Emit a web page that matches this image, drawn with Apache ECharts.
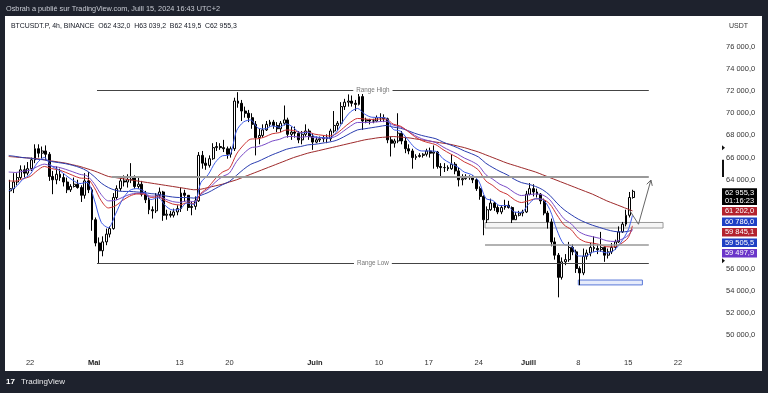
<!DOCTYPE html>
<html><head><meta charset="utf-8">
<script src="https://cdn.jsdelivr.net/npm/echarts@6/dist/echarts.min.js"></script>
<style>html,body{margin:0;padding:0;background:#1e222d;}#c{width:768px;height:393px;}</style>
</head><body><div id="c"></div>
<script>
// ---- time: x = days since Apr 15 00:00 ----
const START_DAY = 4;      // first 12h candle: Apr 19 00:00
const STEP = 0.5;         // 12h candles
const firstOpen = 63.0;   // k USDT
// 12h candles (k USDT), AM then PM for each day Apr 19 .. Jul 15
const highs = [
 64.0,64.6, 64.6,65.3, 65.3,65.6, 66.0,67.2, 67.2,67.0, 67.1,66.5, 64.8,65.2, 65.0,64.6, 64.2,63.6, 64.2,64.0,
 63.5,64.6, 64.7,63.3, 60.6,58.8, 58.9,59.6, 59.8,62.8, 63.5,64.3, 64.4,64.5, 65.5,64.4, 64.3,63.9, 63.0,62.4,
 61.6,62.8, 63.3,63.0, 61.3,61.2, 61.4,61.7, 63.3,63.1, 62.6,62.0, 62.5,66.5, 66.6,66.0, 66.2,67.3, 67.4,67.3,
 67.6,67.0, 67.0,71.4, 71.9,71.2, 70.6,70.3, 70.0,69.3, 68.6,69.0, 69.3,69.4, 69.4,69.2, 69.3,70.7, 69.6,68.8,
 68.8,68.4, 68.4,69.0, 68.6,68.2, 67.9,67.9, 68.0,68.1, 68.6,70.2, 69.3,71.0, 71.3,71.7, 71.6,71.2, 71.9,71.8,
 69.6,69.5, 69.5,69.8, 70.0,69.9, 69.6,67.9, 67.7,70.0, 68.4,67.8, 67.2,66.8, 66.3,66.4, 66.4,66.8, 66.9,67.1,
 66.6,65.5, 65.5,65.3, 66.3,65.6, 65.1,64.5, 64.5,64.4, 64.4,64.1, 63.4,62.6, 61.6,62.3, 62.0,61.7, 61.7,62.2,
 62.1,61.6, 61.1,61.2, 61.3,63.0, 63.7,63.6, 63.2,62.8, 62.3,61.2, 60.5,58.8, 57.4,57.0, 57.3,58.4, 58.2,57.7,
 56.2,57.8, 57.7,58.3, 58.9,58.2, 59.3,58.0, 57.8,58.3, 58.6,59.8, 60.2,61.3, 62.9,63.1
];
const lows = [
 59.5,62.8, 63.5,64.0, 64.2,64.4, 64.8,65.5, 66.0,65.9, 65.8,63.9, 62.7,63.6, 63.9,63.4, 62.8,62.9, 63.3,63.2,
 62.0,62.3, 62.8,59.4, 58.0,56.5, 57.1,58.1, 58.8,59.5, 62.2,63.0, 63.4,63.3, 63.7,63.2, 63.2,62.5, 61.9,60.9,
 60.5,61.0, 62.3,60.3, 60.4,60.6, 60.6,60.8, 61.1,62.0, 61.2,60.8, 61.3,62.0, 65.0,64.9, 65.1,65.8, 66.6,66.7,
 66.5,65.9, 66.0,66.6, 70.5,69.3, 69.6,69.2, 68.6,66.2, 67.2,67.8, 68.4,68.8, 68.6,68.3, 68.3,68.9, 67.8,67.6,
 67.8,67.3, 67.2,67.9, 67.6,66.7, 67.3,67.4, 67.4,67.3, 67.5,68.2, 68.5,69.0, 70.3,70.6, 70.6,70.2, 70.7,68.5,
 69.1,69.0, 69.1,69.2, 69.3,69.2, 67.3,66.1, 66.9,67.3, 67.2,66.4, 66.3,65.0, 65.8,66.0, 66.0,66.1, 66.0,65.0,
 65.0,64.2, 64.7,64.8, 64.9,64.5, 63.4,63.5, 64.0,64.0, 63.7,63.0, 62.2,59.0, 60.1,61.2, 61.2,60.9, 60.9,61.3,
 61.4,60.1, 60.4,60.7, 60.7,61.0, 62.6,62.5, 62.4,61.8, 60.8,59.6, 58.0,56.8, 53.4,55.0, 56.3,56.6, 57.2,55.6,
 54.5,55.4, 56.8,57.1, 57.5,57.3, 57.5,56.6, 56.9,57.3, 57.7,58.3, 59.2,59.8, 60.6,62.3
];
const closes = [
 63.2,63.8, 64.2,64.9, 64.6,65.0, 65.8,66.8, 66.4,66.6, 66.3,64.3, 64.0,64.5, 64.2,63.8, 63.1,63.4, 63.6,63.3,
 62.6,63.9, 63.1,60.4, 58.3,57.6, 58.4,59.1, 59.6,62.4, 63.2,63.9, 63.8,64.0, 64.2,63.4, 63.6,62.7, 62.2,61.3,
 61.2,62.6, 62.9,60.8, 60.9,60.8, 61.1,61.4, 62.8,62.6, 61.5,61.6, 62.1,66.2, 65.5,65.3, 65.9,66.9, 67.0,66.9,
 66.8,66.3, 66.8,71.1, 70.9,70.2, 70.0,69.6, 69.0,67.8, 68.0,68.5, 69.0,69.2, 68.9,68.6, 69.1,69.4, 68.1,68.3,
 68.2,67.6, 68.1,68.4, 67.9,67.4, 67.6,67.7, 67.8,67.7, 68.4,68.9, 69.1,70.6, 71.0,71.1, 70.9,70.8, 71.5,69.3,
 69.4,69.3, 69.3,69.6, 69.6,69.5, 67.6,67.3, 67.5,68.2, 67.5,66.8, 66.6,66.0, 66.1,66.2, 66.3,66.6, 66.4,66.5,
 65.2,65.1, 65.1,65.0, 65.4,64.8, 64.0,64.1, 64.3,64.2, 64.0,63.2, 62.5,60.4, 61.3,61.9, 61.5,61.1, 61.5,61.7,
 61.5,60.4, 60.8,61.0, 61.1,62.7, 63.2,62.9, 62.7,62.1, 61.0,60.2, 58.4,57.2, 55.2,56.6, 56.8,57.9, 57.5,56.0,
 55.6,57.1, 57.4,57.9, 57.8,57.7, 57.9,57.2, 57.5,57.9, 58.4,59.3, 60.0,60.8, 62.4,62.9553
];
// moving averages (k USDT), one value per day boundary x = 4 .. 91, then last bar 91.6
const maLastDay = 91.6;
const ma20Blue = [
 63.0,63.36,64.05,64.48,65.52,66.01,65.24,64.91,64.41,63.96,
 63.66,63.77,62.25,60.16,59.68,60.90,62.25,63.04,63.20,62.97,
 62.22,62.39,61.67,61.28,61.33,61.90,61.77,63.76,64.45,65.55,
 66.16,66.22,68.42,69.22,69.39,68.67,68.59,68.86,68.74,69.04,
 68.71,68.21,68.30,67.89,67.81,67.76,68.27,69.32,70.12,70.43,
 69.92,69.64,69.62,69.57,68.55,68.39,67.67,66.92,66.60,66.60,
 66.56,65.90,65.50,65.18,64.69,64.47,63.90,62.33,62.13,61.67,
 61.68,61.10,61.06,61.80,62.29,62.21,61.31,59.46,58.17,58.05,
 57.13,57.12,57.47,57.57,57.40,57.63,58.38,59.47, 60.786
];
const ma50Red = [
 63.9,63.88,64.10,64.29,64.82,65.20,65.01,64.90,64.67,64.40,
 64.16,64.11,63.32,62.10,61.46,61.66,62.14,62.53,62.72,62.71,
 62.41,62.45,62.10,61.82,61.73,61.92,61.85,62.78,63.31,64.08,
 64.68,65.02,66.32,67.14,67.67,67.70,67.87,68.15,68.25,68.49,
 68.45,68.27,68.30,68.11,68.02,67.95,68.15,68.67,69.19,69.53,
 69.48,69.44,69.48,69.48,69.02,68.84,68.41,67.90,67.54,67.34,
 67.16,66.72,66.35,66.02,65.61,65.31,64.86,63.91,63.48,62.97,
 62.70,62.21,61.95,62.11,62.28,62.24,61.81,60.83,59.93,59.50,
 58.75,58.40,58.29,58.16,57.96,57.95,58.24,58.78, 59.8451
];
const maPurple = [
 64.70,64.66,64.77,64.87,65.18,65.41,65.23,65.13,64.94,64.72,
 64.49,64.35,63.66,62.66,62.10,62.15,62.42,62.68,62.78,62.76,
 62.53,62.54,62.26,62.04,61.96,62.09,62.03,62.72,63.15,63.77,
 64.28,64.61,65.65,66.37,66.88,66.98,67.20,67.49,67.64,67.88,
 67.91,67.83,67.90,67.79,67.77,67.76,67.94,68.38,68.84,69.17,
 69.17,69.18,69.24,69.28,68.93,68.77,68.42,68.01,67.70,67.52,
 67.35,66.96,66.63,66.33,65.96,65.67,65.28,64.47,64.05,63.59,
 63.31,62.85,62.58,62.65,62.72,62.63,62.19,61.31,60.48,60.03,
 59.36,59.03,58.87,58.72,58.50,58.44,58.61,58.98, 59.4979
];
const ma100Blue = [
 66.2,66.1,66.0,65.95,65.85,65.8,65.65,65.55,65.45,65.3,
 65.1,64.8,64.3,63.7,63.3,63.05,62.95,62.95,62.9,62.85,
 62.75,62.7,62.55,62.45,62.4,62.4,62.35,62.6,62.85,63.2,
 63.55,63.85,64.4,64.95,65.4,65.65,65.95,66.25,66.5,66.75,
 66.9,67.0,67.15,67.2,67.3,67.4,67.55,67.85,68.2,68.5,
 68.6,68.7,68.8,68.9,68.75,68.65,68.45,68.2,68.0,67.85,
 67.7,67.4,67.15,66.9,66.6,66.35,66.05,65.5,65.1,64.75,
 64.45,64.05,63.75,63.6,63.4,63.1,62.6,61.9,61.3,60.85,
 60.45,60.15,59.9,59.7,59.5,59.35,59.3,59.35, 59.5055
];
const ma200Red = [
 66.1,66.05,66.0,65.95,65.9,65.8,65.7,65.6,65.5,65.35,
 65.2,65.0,64.8,64.55,64.3,64.2,64.1,64.0,63.9,63.8,
 63.7,63.6,63.5,63.4,63.3,63.2,63.1,63.15,63.3,63.45,
 63.6,63.8,64.0,64.25,64.5,64.75,65.0,65.25,65.5,65.75,
 66.0,66.2,66.4,66.55,66.7,66.85,67.0,67.15,67.3,67.45,
 67.6,67.7,67.8,67.85,67.9,67.85,67.8,67.7,67.6,67.5,
 67.4,67.3,67.2,67.05,66.9,66.7,66.5,66.25,66.0,65.75,
 65.5,65.3,65.1,64.9,64.7,64.45,64.2,63.95,63.7,63.45,
 63.2,62.95,62.7,62.4,62.1,61.85,61.6,61.35, 61.202
];
// drawings (USDT / days)
const lastPrice = 62955.3;
const rangeLines = [
  {label:'Range High', price:72100, from:16.4, to:93.9},
  {label:'Range Low',  price:56500, from:16.4, to:93.9}
];
const greyLevels = [
  {price:64250, from:18.5, to:93.9, width:2},
  {price:58180, from:70.9, to:93.9, width:1.5}
];
const zones = [
  {top:60150, bottom:59650, from:70.9, to:95.9, fill:'rgba(215,215,215,0.25)', border:'#9a9a9a'},
  {top:54960, bottom:54520, from:84.0, to:93.0, fill:'rgba(120,150,235,0.18)', border:'#5a78d8'}
];
const projection = [[91.2,61260],[92.45,59990],[94.2,63980]];
// axes
const xTicks = [7,16,28,35,47,56,63,70,77,84,91,98];
const xTickLabels = ['22','Mai','13','20','Juin','10','17','24','Juill','8','15','22'];
const monthNames = ['Mai','Juin','Juill'];
const yTicks = [50000,52000,54000,56000,64000,66000,68000,70000,72000,74000,76000];
const priceTags = [
  {value:62955.3, sub:'01:16:23', color:'#000000'},
  {value:61202.0, color:'#b3222e'},
  {value:60786.0, color:'#1f40c4'},
  {value:59845.1, color:'#b3222e'},
  {value:59505.5, color:'#1f40c4'},
  {value:59497.9, color:'#6b36c9'}
];
const scaleMarkers = [66900, 56700];
const scaleBar = [65800, 64250];

const FONT = '"Liberation Sans", Arial, sans-serif';
function fmtPrice(v){
  const s = Math.abs(v).toFixed(1).split('.');
  const int = s[0].replace(/\B(?=(\d{3})+(?!\d))/g, ' ');
  return (v<0?'-':'') + int + ',' + s[1];
}

const candleData = [];
let prev = firstOpen;
for (let i = 0; i < closes.length; i++) {
  const x = START_DAY + i * STEP + 0.2;
  candleData.push([x, prev*1000, closes[i]*1000, lows[i]*1000, highs[i]*1000]);
  prev = closes[i];
}
const maDays = [];
for (let d = 4; d <= 91; d++) maDays.push(d);
maDays.push(maLastDay);
const toLine = arr => arr.map((v,i)=>[maDays[i], v*1000]);

const chart = echarts.init(document.getElementById('c'));
const mlData = [[{yAxis:lastPrice, lineStyle:{color:'#555', type:[1,2], width:1}, label:{show:false}}, {yAxis:lastPrice}]];
rangeLines.forEach(r => mlData.push([
  {coord:[r.from, r.price], lineStyle:{color:'#444', width:1, type:'solid'}, label:{show:false}},
  {coord:[r.to, r.price]}]));
greyLevels.forEach(g => mlData.push([
  {coord:[g.from, g.price], lineStyle:{color:'#999', width:g.width, type:'solid'}, label:{show:false}},
  {coord:[g.to, g.price]}]));

const maSeries = (name, arr, color) => ({
  type:'line', name, data: toLine(arr), showSymbol:false, smooth:0.3, silent:true,
  lineStyle:{color, width:1}, z:4
});

chart.setOption({
  backgroundColor:'#1e222d',
  animation:false,
  grid:{left:6, right:48, top:16, bottom:41},
  xAxis:{type:'value', min:3.62, max:103.9,
    axisLine:{show:false}, axisTick:{show:false}, splitLine:{show:false},
    axisLabel:{customValues:xTicks, margin:7, color:'#333', fontSize:7.5, fontFamily:FONT,
      formatter:v=>{const i = xTicks.indexOf(v); const t = i>=0?xTickLabels[i]:''; return monthNames.includes(t)?'{b|'+t+'}':t;},
      rich:{b:{fontWeight:'bold', fontSize:7.5, color:'#222', fontFamily:FONT}}}},
  yAxis:{type:'value', position:'right', min:48470, max:78770,
    axisLine:{show:false}, axisTick:{show:false}, splitLine:{show:false},
    axisLabel:{customValues:yTicks, margin:6, color:'#333', fontSize:7.5, fontFamily:FONT, formatter:v=>fmtPrice(v)}},
  series:[
    {type:'candlestick', data:candleData, encode:{x:0, y:[1,2,3,4]}, barWidth:2.4, silent:true, z:3,
     itemStyle:{color:'#ffffff', color0:'#000000', borderColor:'#000000', borderColor0:'#000000', borderWidth:1},
     markLine:{silent:true, symbol:['none','none'], animation:false, data:mlData},
     markArea:{silent:true, data: zones.map(z=>[{coord:[z.from, z.top], itemStyle:{color:z.fill, borderColor:z.border, borderWidth:1}}, {coord:[z.to, z.bottom]}])}
    },
    maSeries('EMA200', ma200Red, '#9e2a2b'),
    maSeries('EMA100', ma100Blue, '#2a3db0'),
    maSeries('MA', maPurple, '#7a4cc8'),
    maSeries('EMA50', ma50Red, '#cc3333'),
    maSeries('EMA20', ma20Blue, '#3f5ce8'),
    {type:'line', name:'projection', data:projection, showSymbol:false, silent:true, z:6,
     lineStyle:{color:'#666', width:1}}
  ]
});

// graphics: frame, texts, labels, arrow head, price tags
const g = [];
const toPx = (x, y) => chart.convertToPixel({gridIndex:0}, [x, y]);
const py = v => chart.convertToPixel({yAxisIndex:0}, v);
g.push({type:'rect', z:-10, silent:true, shape:{x:5, y:16, width:757, height:355}, style:{fill:'#ffffff'}});
g.push({type:'text', z:10, x:6, y:5, style:{text:'Osbrah a publié sur TradingView.com, Juill 15, 2024 16:43 UTC+2', fill:'#c9ccd4', font:'7.3px '+FONT}});
g.push({type:'text', z:10, x:11, y:22.5, style:{text:'BTCUSDT.P, 4h, BINANCE  O62 432,0  H63 039,2  B62 419,5  C62 955,3', fill:'#131722', font:'6.9px '+FONT}});
g.push({type:'text', z:10, x:729, y:23, style:{text:'USDT', fill:'#333', font:'7px '+FONT}});
g.push({type:'text', z:10, x:6, y:378, style:{text:'17', fill:'#ffffff', font:'900 8px '+FONT}});
g.push({type:'text', z:10, x:21, y:378, style:{text:'TradingView', fill:'#e8e8ea', font:'8px '+FONT}});
rangeLines.forEach(r => {
  const p = toPx((r.from + r.to)/2, r.price);
  g.push({type:'text', z:10, x:p[0], y:p[1], style:{text:r.label, fill:'#777', font:'6.3px '+FONT, align:'center', verticalAlign:'middle', backgroundColor:'#fff', padding:[1,3]}});
});
{ // arrow head at end of projection
  const a = toPx(projection[1][0], projection[1][1]);
  const b = toPx(projection[2][0], projection[2][1]);
  const ang = Math.atan2(b[1]-a[1], b[0]-a[0]);
  const L = 6, spread = 0.5;
  const p1 = [b[0] - L*Math.cos(ang - spread), b[1] - L*Math.sin(ang - spread)];
  const p2 = [b[0] - L*Math.cos(ang + spread), b[1] - L*Math.sin(ang + spread)];
  g.push({type:'polyline', z:10, shape:{points:[p1, b, p2]}, style:{stroke:'#666', lineWidth:1, fill:null}});
}
const TAG_X = 722, TAG_W = 35, TAG_H = 8.5, GAP = 2;
let bottom = -1e9;
priceTags.forEach(t => {
  const y = py(t.value);
  if (t.sub) {
    const top = y - 3, h = 16.6;
    g.push({type:'rect', z:20, shape:{x:TAG_X, y:top, width:TAG_W, height:h}, style:{fill:t.color}});
    g.push({type:'text', z:21, x:TAG_X+TAG_W/2, y:top+4.3, style:{text:fmtPrice(t.value), fill:'#fff', font:'7.5px '+FONT, align:'center', verticalAlign:'middle'}});
    g.push({type:'text', z:21, x:TAG_X+TAG_W/2, y:top+12.3, style:{text:t.sub, fill:'#fff', font:'7.5px '+FONT, align:'center', verticalAlign:'middle'}});
    bottom = top + h;
  } else {
    let top = y - TAG_H/2;
    if (top < bottom + GAP) top = bottom + GAP;
    g.push({type:'rect', z:20, shape:{x:TAG_X, y:top, width:TAG_W, height:TAG_H}, style:{fill:t.color}});
    g.push({type:'text', z:21, x:TAG_X+TAG_W/2, y:top+TAG_H/2, style:{text:fmtPrice(t.value), fill:'#fff', font:'7.5px '+FONT, align:'center', verticalAlign:'middle'}});
    bottom = top + TAG_H;
  }
});
scaleMarkers.forEach(v => { const y = py(v); g.push({type:'polygon', z:20, shape:{points:[[722,y-2.5],[725,y],[722,y+2.5]]}, style:{fill:'#111'}}); });
{ const y1 = py(scaleBar[0]), y2 = py(scaleBar[1]); g.push({type:'rect', z:20, shape:{x:722, y:y1, width:2, height:y2-y1}, style:{fill:'#111'}}); }
chart.setOption({graphic:g});
</script>
</body></html>
